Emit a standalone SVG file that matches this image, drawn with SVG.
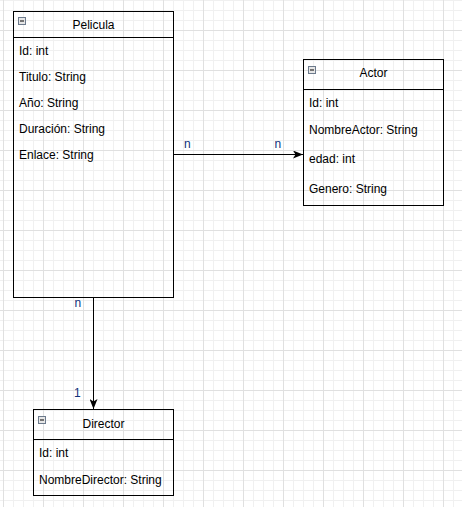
<svg xmlns="http://www.w3.org/2000/svg" width="462" height="507" viewBox="0 0 462 507">
<defs>
<pattern id="minor" x="3" y="0" width="10" height="10" patternUnits="userSpaceOnUse">
<path d="M 0 0.5 H 10 M 0.5 0 V 10" fill="none" stroke="#f0f0f0" stroke-width="1"/>
</pattern>
<pattern id="major" x="3" y="30" width="40" height="40" patternUnits="userSpaceOnUse">
<path d="M 0 0.5 H 40 M 0.5 0 V 40" fill="none" stroke="#e0e0e0" stroke-width="1"/>
</pattern>
<marker id="arrow" viewBox="0 0 10 8" refX="10" refY="4" markerWidth="10" markerHeight="8" markerUnits="userSpaceOnUse" orient="auto">
<path d="M 0 0 L 10 4 L 0 8 L 2.5 4 Z" fill="#000"/>
</marker>
</defs>
<style>
.box{fill:none;stroke:#000;stroke-width:1}
.title{font-family:"Liberation Sans",Arial,sans-serif;font-size:12px;fill:#000;text-anchor:middle}
.attr{font-family:"Liberation Sans",Arial,sans-serif;font-size:12px;fill:#000}
.lbl{font-family:"Liberation Sans",Arial,sans-serif;font-size:12px;fill:#10307a}
.icon{fill:#e6e6e6;stroke:#6c7a8c;stroke-width:1}
.edge{fill:none;stroke:#000;stroke-width:1}
</style>
<rect width="462" height="507" fill="#ffffff"/>
<rect width="462" height="507" fill="url(#minor)"/>
<rect width="462" height="507" fill="url(#major)"/>
<g id="pelicula">
<rect class="box" x="13.5" y="11.5" width="160" height="286"/>
<line class="box" x1="13.5" y1="37.5" x2="173.5" y2="37.5"/>
<rect class="icon" x="18.5" y="17.5" width="7" height="7"/>
<line x1="20" y1="21" x2="24" y2="21" stroke="#000" stroke-width="1"/>
<text class="title" x="93.5" y="29">Pelicula</text>
<text class="attr" x="19" y="54.5">Id: int</text>
<text class="attr" x="19" y="80.5">Titulo: String</text>
<text class="attr" x="19" y="106.5">Año: String</text>
<text class="attr" x="19" y="132.5">Duración: String</text>
<text class="attr" x="19" y="159">Enlace: String</text>
</g>
<g id="actor">
<rect class="box" x="303.5" y="59.5" width="140" height="146"/>
<line class="box" x1="303.5" y1="89.5" x2="443.5" y2="89.5"/>
<rect class="icon" x="308.5" y="66.5" width="7" height="7"/>
<line x1="310" y1="70" x2="314" y2="70" stroke="#000" stroke-width="1"/>
<text class="title" x="373.5" y="77">Actor</text>
<text class="attr" x="309" y="107">Id: int</text>
<text class="attr" x="309" y="133.5">NombreActor: String</text>
<text class="attr" x="309" y="162.5">edad: int</text>
<text class="attr" x="309" y="192.5">Genero: String</text>
</g>
<g id="director">
<rect class="box" x="33.5" y="409.5" width="140" height="86"/>
<line class="box" x1="33.5" y1="439.5" x2="173.5" y2="439.5"/>
<rect class="icon" x="38.5" y="416.5" width="7" height="7"/>
<line x1="40" y1="420" x2="44" y2="420" stroke="#000" stroke-width="1"/>
<text class="title" x="103.5" y="427.5">Director</text>
<text class="attr" x="39" y="457">Id: int</text>
<text class="attr" x="39" y="483.5">NombreDirector: String</text>
</g>
<g id="connectors">
<line class="edge" x1="173.5" y1="154.5" x2="303" y2="154.5" marker-end="url(#arrow)"/>
<text class="lbl" x="184" y="147.5">n</text>
<text class="lbl" x="274.5" y="147.5">n</text>
<line class="edge" x1="93.5" y1="297.5" x2="93.5" y2="409" marker-end="url(#arrow)"/>
<text class="lbl" x="74.5" y="307">n</text>
<text class="lbl" x="74" y="397">1</text>
</g>
</svg>
